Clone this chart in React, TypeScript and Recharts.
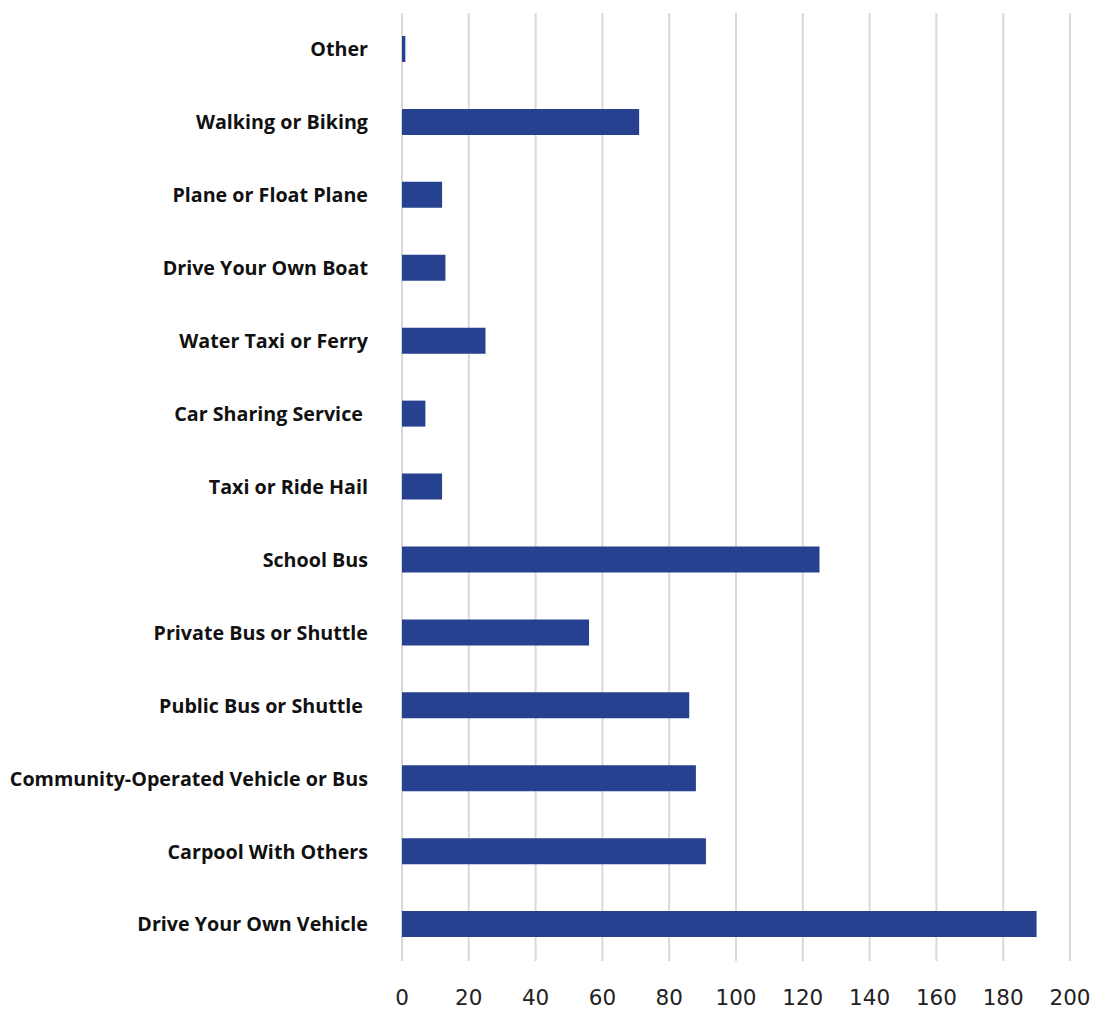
import { BarChart, Bar, XAxis, YAxis, CartesianGrid } from "recharts";

// top-to-bottom order as in the picture
const modes = [
  "Other",
  "Walking or Biking",
  "Plane or Float Plane",
  "Drive Your Own Boat",
  "Water Taxi or Ferry",
  "Car Sharing Service ",
  "Taxi or Ride Hail",
  "School Bus",
  "Private Bus or Shuttle",
  "Public Bus or Shuttle ",
  "Community-Operated Vehicle or Bus",
  "Carpool With Others",
  "Drive Your Own Vehicle",
];
const counts = [1, 71, 12, 13, 25, 7, 12, 125, 56, 86, 88, 91, 190];
const xTicks = [0, 20, 40, 60, 80, 100, 120, 140, 160, 180, 200];

const data = modes.map((name, i) => ({ name, value: counts[i] }));

function ModeTick(props: any) {
  const { x, y, payload } = props;
  return (
    <text
      x={x}
      y={y}
      dy="0.35em"
      textAnchor="end"
      fill="#111"
      fontFamily="'Open Sans', 'Noto Sans', sans-serif"
      fontWeight={700}
      fontSize={19.7}
      style={{ whiteSpace: "pre" }}
    >
      {payload.value}
    </text>
  );
}

export default function App() {
  return (
    <div style={{ position: "absolute", left: 0, top: 0 }}>
      <BarChart
        width={1095}
        height={1011}
        data={data}
        layout="vertical"
        barCategoryGap={0}
        margin={{ top: 13, right: 25, left: 0, bottom: 0 }}
      >
        <CartesianGrid horizontal={false} stroke="#d9d9d9" strokeWidth={2} />
        <XAxis
          type="number"
          domain={[0, 200]}
          ticks={xTicks}
          axisLine={false}
          tickLine={false}
          height={50}
          tickMargin={23}
          tick={{ fill: "#222", fontSize: 21.5, fontFamily: "'DejaVu Sans', sans-serif" }}
        />
        <YAxis
          type="category"
          dataKey="name"
          width={402}
          axisLine={false}
          tickLine={false}
          tickMargin={28}
          interval={0}
          tick={<ModeTick />}
        />
        <Bar dataKey="value" fill="#26418f" barSize={26} isAnimationActive={false} />
      </BarChart>
    </div>
  );
}
